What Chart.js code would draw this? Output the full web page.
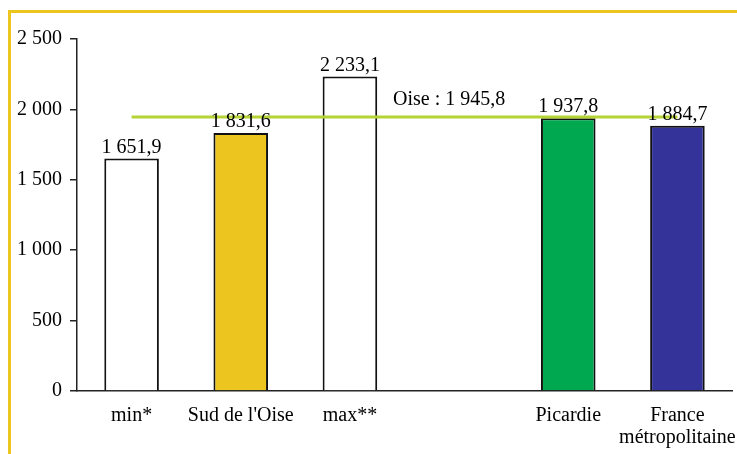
<!DOCTYPE html>
<html>
<head>
<meta charset="utf-8">
<script src="https://cdn.jsdelivr.net/npm/chart.js@4"></script>
<style>
  html, body { margin: 0; padding: 0; background: #fff; overflow: hidden; }
  #wrap { position: relative; width: 737px; height: 454px; }
</style>
</head>
<body>
<div id="wrap"><canvas id="chart" width="737" height="454"></canvas></div>
<script>
const categories = ["min*", "Sud de l'Oise", "max**", "", "Picardie", ["France", "métropolitaine"]];
const values = [1651.9, 1831.6, 2233.1, null, 1937.8, 1884.7];
const barColors = ["#ffffff", "#ecc51e", "#ffffff", "#ffffff", "#00a94f", "#333399"];
const oiseValue = 1945.8;
const oiseLabel = "Oise : 1 945,8";
const oiseLine = [oiseValue, null, null, null, null, oiseValue];

// french style: "1 651,9"
function fr(v, dec) {
  let s = v.toFixed(dec).split(".");
  let int = s[0].replace(/\B(?=(\d{3})+(?!\d))/g, " ");
  return dec ? int + "," + s[1] : int;
}

const serif = "'Liberation Serif', 'DejaVu Serif', serif";
const fontSize = 20;

const frame = {
  id: "frame",
  afterDraw(chart) {
    const { ctx, width, height } = chart;
    ctx.save();
    ctx.fillStyle = "#ecc51e";
    ctx.fillRect(8, 10, width - 8, 3);
    ctx.fillRect(8, 10, 3, height - 10);
    ctx.restore();
  },
};

const valueLabels = {
  id: "valueLabels",
  afterDatasetsDraw(chart) {
    const { ctx, scales: { x, y } } = chart;
    ctx.save();
    ctx.font = fontSize + "px " + serif;
    ctx.fillStyle = "#000";
    ctx.textAlign = "center";
    ctx.textBaseline = "bottom";
    values.forEach((v, i) => {
      if (v == null) return;
      ctx.fillText(fr(v, 1), x.getPixelForValue(i), y.getPixelForValue(v) - 1);
    });
    ctx.textAlign = "left";
    ctx.fillText(oiseLabel, x.getPixelForValue(3) - 66, y.getPixelForValue(oiseValue) - 7);
    ctx.restore();
  },
};

new Chart(document.getElementById("chart"), {
  type: "bar",
  data: {
    labels: categories,
    datasets: [
      {
        type: "line",
        data: oiseLine,
        borderColor: "#b5d334",
        borderWidth: 3,
        pointRadius: 0,
        spanGaps: true,
        order: 0,
      },
      {
        data: values,
        backgroundColor: barColors,
        borderColor: "#111",
        borderWidth: 2,
        barPercentage: 0.5,
        categoryPercentage: 1,
        order: 1,
      },
    ],
  },
  options: {
    responsive: false,
    animation: false,
    layout: { padding: { top: 39, right: 5, left: 0, bottom: 0 } },
    plugins: { legend: { display: false }, tooltip: { enabled: false } },
    scales: {
      x: {
        grid: { display: false },
        border: { display: true, color: "#222", width: 1.5 },
        ticks: {
          color: "#000",
          font: { family: serif, size: fontSize, lineHeight: 1.1 },
          padding: 6,
          maxRotation: 0,
          autoSkip: false,
        },
        afterFit(scale) {
          scale.height = 63;
          scale.paddingLeft = 0;
          scale.paddingRight = 0;
        },
      },
      y: {
        min: 0,
        max: 2500,
        grid: { drawOnChartArea: false, tickLength: 7, color: "#222", lineWidth: 1.5 },
        border: { display: true, color: "#222", width: 1.5 },
        ticks: {
          stepSize: 500,
          color: "#000",
          padding: 8,
          font: { family: serif, size: fontSize },
          callback: (v) => fr(v, 0),
        },
        afterFit(scale) { scale.width = 77; },
      },
    },
  },
  plugins: [valueLabels, frame],
});
</script>
</body>
</html>
